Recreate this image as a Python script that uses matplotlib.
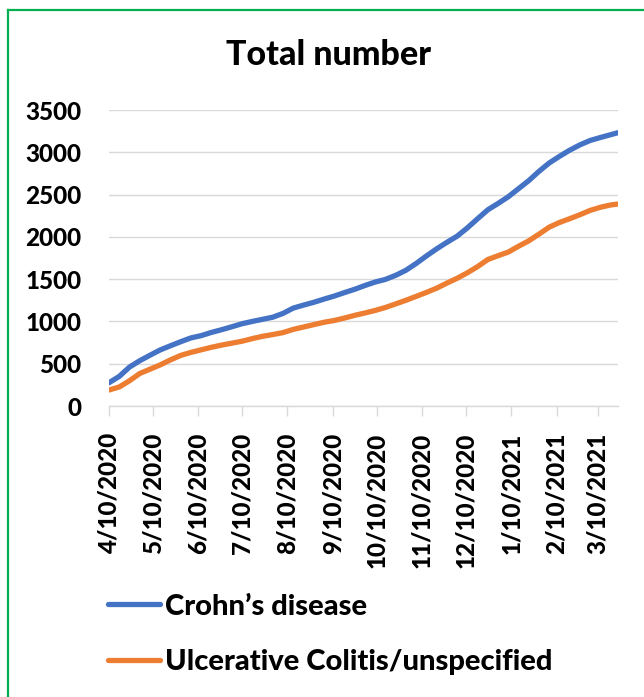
import matplotlib
matplotlib.use("Agg")
import matplotlib.pyplot as plt
import pandas as pd
import numpy as np
from matplotlib.lines import Line2D

plt.rcParams['font.family'] = ['Lato', 'DejaVu Sans']
plt.rcParams['font.weight'] = 'bold'

dates = list(pd.date_range('2020-04-10', periods=50, freq='7D')) + [pd.Timestamp('2021-03-24')]

crohns = [275, 350, 460, 535, 600, 663, 712, 760, 805, 832,
          870, 902, 937, 973, 1000, 1025, 1050, 1095, 1158, 1193,
          1226, 1264, 1300, 1341, 1380, 1425, 1466, 1497, 1545, 1605,
          1685, 1774, 1858, 1935, 2008, 2106, 2214, 2320, 2395, 2474,
          2570, 2665, 2775, 2874, 2952, 3025, 3088, 3140, 3175, 3208,
          3232]

ulcerative = [189, 225, 298, 384, 435, 486, 545, 598, 634, 664,
              694, 720, 743, 766, 797, 824, 845, 868, 906, 934,
              962, 990, 1011, 1040, 1072, 1100, 1130, 1165, 1207, 1250,
              1296, 1343, 1393, 1453, 1510, 1575, 1648, 1732, 1777, 1820,
              1889, 1953, 2032, 2115, 2170, 2215, 2262, 2313, 2350, 2377,
              2388]

tick_dates = ['2020-04-10', '2020-05-10', '2020-06-10', '2020-07-10', '2020-08-10',
              '2020-09-10', '2020-10-10', '2020-11-10', '2020-12-10', '2021-01-10',
              '2021-02-10', '2021-03-10']
tick_labels = ['4/10/2020', '5/10/2020', '6/10/2020', '7/10/2020', '8/10/2020',
               '9/10/2020', '10/10/2020', '11/10/2020', '12/10/2020', '1/10/2021',
               '2/10/2021', '3/10/2021']
y_ticks = [0, 500, 1000, 1500, 2000, 2500, 3000, 3500]

series_names = ["Crohn\u2019s disease", "Ulcerative Colitis/unspecified"]
colors = ['#4472C4', '#ED7D31']

W, H = 644, 697
WEIGHT = 900
fig = plt.figure(figsize=(W / 100, H / 100), dpi=100)
ax = fig.add_axes([109 / W, 1 - 406 / H, (618 - 109) / W, (406 - 110) / H])

l1, = ax.plot(dates, crohns, color=colors[0], lw=3.8, solid_capstyle='round', solid_joinstyle='round')
l2, = ax.plot(dates, ulcerative, color=colors[1], lw=3.8, solid_capstyle='round', solid_joinstyle='round')

ax.set_ylim(0, 3500)
ax.set_xlim(pd.Timestamp('2020-04-10'), pd.Timestamp('2021-03-24'))
ax.set_yticks(y_ticks)
ax.set_yticklabels([str(v) for v in y_ticks], fontsize=17.5, fontweight=WEIGHT)
ax.set_xticks([pd.Timestamp(d) for d in tick_dates])
ax.set_xticklabels(tick_labels, rotation=90, fontsize=17.5, fontweight=WEIGHT, va='top', ha='center')
ax.tick_params(axis='y', length=0, pad=20)
ax.tick_params(axis='x', length=7, width=1, color='#D9D9D9', pad=12)
ax.grid(axis='y', color='#D9D9D9', lw=1)
ax.set_axisbelow(True)
for s in ['top', 'right', 'left']:
    ax.spines[s].set_visible(False)
ax.spines['bottom'].set_color('#D9D9D9')
ax.spines['bottom'].set_linewidth(1)

fig.text(329 / W, 1 - 65 / H, 'Total number', ha='center', va='baseline', fontsize=24.5, fontweight=WEIGHT)

leg = fig.legend([l1, l2], series_names, loc='upper left',
                 bbox_to_anchor=(96 / W, 1 - 582 / H), frameon=False,
                 prop={'size': 21, 'weight': WEIGHT}, handlelength=1.8,
                 handletextpad=0.15, labelspacing=1.0, borderaxespad=0)

# green chart-area border (top and left)
fig.add_artist(Line2D([8 / W, 8 / W], [0, 1 - 10 / H], transform=fig.transFigure, color='#00B050', lw=1.6))
fig.add_artist(Line2D([8 / W, 1], [1 - 10 / H, 1 - 10 / H], transform=fig.transFigure, color='#00B050', lw=1.6))

fig.savefig('out.png', dpi=100)
